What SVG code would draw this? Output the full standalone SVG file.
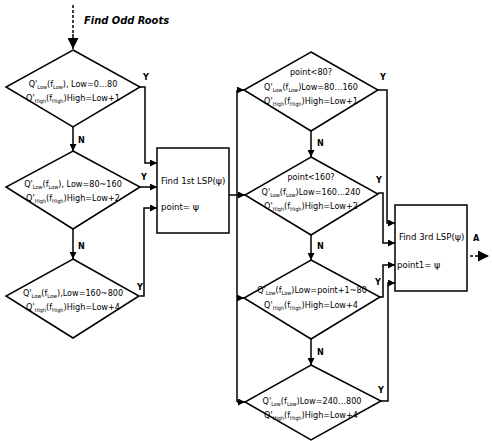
<svg xmlns="http://www.w3.org/2000/svg" width="492" height="441" viewBox="0 0 492 441">
<style>
.shape{fill:#fff;stroke:#000;stroke-width:1.5}
.ln{fill:none;stroke:#000;stroke-width:1.5}
.t{font-family:"DejaVu Sans Condensed","Liberation Sans",sans-serif;font-size:9px;fill:#000;text-anchor:middle}
.s{font-size:5.5px}
.lb{font-family:"DejaVu Sans Condensed","Liberation Sans",sans-serif;font-size:9px;font-weight:bold;fill:#000}
.bt{font-family:"DejaVu Sans Condensed","Liberation Sans",sans-serif;font-size:9.5px;fill:#000}
.ps{font-family:"DejaVu Sans","Liberation Sans",sans-serif;fill:#000}
.ti{font-family:"DejaVu Sans Condensed","Liberation Sans",sans-serif;font-size:11px;font-weight:bold;font-style:italic;fill:#000}
</style>
<defs>
<marker id="ah" viewBox="0 0 10 10" refX="10" refY="5" markerWidth="7" markerHeight="7" markerUnits="userSpaceOnUse" orient="auto"><path d="M0,0 L10,5 L0,10 z" fill="#000"/></marker>
<marker id="ahb" viewBox="0 0 10 10" refX="10" refY="5" markerWidth="11" markerHeight="11" markerUnits="userSpaceOnUse" orient="auto"><path d="M0,0 L10,5 L0,10 z" fill="#000"/></marker>
</defs>

<g id="connectors">
  <path class="ln" d="M73,5 V34" stroke-width="3" stroke-dasharray="3,2"/>
  <path class="ln" d="M73,34 V49" stroke-width="3" marker-end="url(#ahb)"/>
  <text class="ti" x="84" y="24">Find Odd Roots</text>
  <path class="ln" d="M73,127 V151" marker-end="url(#ah)"/>
  <text class="lb" x="78" y="143">N</text>
  <path class="ln" d="M73,229 V259" marker-end="url(#ah)"/>
  <text class="lb" x="78" y="249">N</text>
  <path class="ln" d="M140,87 H145 V163 H157" marker-end="url(#ah)"/>
  <text class="lb" x="143" y="80">Y</text>
  <path class="ln" d="M140,187 H157" marker-end="url(#ah)"/>
  <text class="lb" x="141" y="180">Y</text>
  <path class="ln" d="M140,296 H144 V208 H157" marker-end="url(#ah)"/>
  <text class="lb" x="137" y="290">Y</text>
  <path class="ln" d="M229,195 H245" marker-end="url(#ah)"/>
  <path class="ln" d="M237,402 V90"/>
  <path class="ln" d="M237,90 H244" marker-end="url(#ah)"/>
  <path class="ln" d="M237,298 H244" marker-end="url(#ah)"/>
  <path class="ln" d="M237,402 H245" marker-end="url(#ah)"/>
  <path class="ln" d="M311,131 V157" marker-end="url(#ah)"/>
  <text class="lb" x="317" y="146">N</text>
  <path class="ln" d="M311,235 V260" marker-end="url(#ah)"/>
  <text class="lb" x="317" y="249">N</text>
  <path class="ln" d="M311,339 V365" marker-end="url(#ah)"/>
  <text class="lb" x="317" y="355">N</text>
  <path class="ln" d="M378,90 H387 V223 H395" marker-end="url(#ah)"/>
  <text class="lb" x="380" y="80">Y</text>
  <path class="ln" d="M378,193 H383 V243 H395" marker-end="url(#ah)"/>
  <text class="lb" x="376" y="183">Y</text>
  <path class="ln" d="M380,297 H383 V265 H395" marker-end="url(#ah)"/>
  <text class="lb" x="375" y="285">Y</text>
  <path class="ln" d="M381,401 H388 V283 H395" marker-end="url(#ah)"/>
  <text class="lb" x="378" y="393">Y</text>
  <path class="ln" d="M470,256 H489" stroke-width="3" stroke-dasharray="3,2" marker-end="url(#ahb)"/>
  <text class="lb" x="473" y="241">A</text>
</g>

<g id="d1">
  <polygon class="shape" points="73,50 140,87 73,127 6,87"/>
  <text class="t" x="73" y="87">Q'<tspan class="s" dy="2">Low</tspan><tspan dy="-2">(f</tspan><tspan class="s" dy="2">Low</tspan><tspan dy="-2">), Low=0…80</tspan></text>
  <text class="t" x="73" y="101">Q'<tspan class="s" dy="2">High</tspan><tspan dy="-2">(f</tspan><tspan class="s" dy="2">High</tspan><tspan dy="-2">)High=Low+1</tspan></text>
</g>
<g id="d2">
  <polygon class="shape" points="73,151 140,187 73,229 6,187"/>
  <text class="t" x="73" y="187">Q'<tspan class="s" dy="2">Low</tspan><tspan dy="-2">(f</tspan><tspan class="s" dy="2">Low</tspan><tspan dy="-2">), Low=80~160</tspan></text>
  <text class="t" x="73" y="201">Q'<tspan class="s" dy="2">High</tspan><tspan dy="-2">(f</tspan><tspan class="s" dy="2">High</tspan><tspan dy="-2">)High=Low+2</tspan></text>
</g>
<g id="d3">
  <polygon class="shape" points="73,259 139,296 73,338 6,296"/>
  <text class="t" x="73" y="296">Q'<tspan class="s" dy="2">Low</tspan><tspan dy="-2">(f</tspan><tspan class="s" dy="2">Low</tspan><tspan dy="-2">),Low=160~800</tspan></text>
  <text class="t" x="73" y="310">Q'<tspan class="s" dy="2">High</tspan><tspan dy="-2">(f</tspan><tspan class="s" dy="2">High</tspan><tspan dy="-2">)High=Low+4</tspan></text>
</g>
<g id="box1">
  <rect class="shape" x="157" y="148" width="72" height="85"/>
  <text class="bt" x="161" y="184">Find 1st LSP(<tspan class="ps">ψ</tspan>)</text>
  <text class="bt" x="161" y="210">point= <tspan class="ps">ψ</tspan></text>
</g>
<g id="d4">
  <polygon class="shape" points="311,52 378,90 311,131 244,90"/>
  <text class="t" x="311" y="75">point&lt;80?</text>
  <text class="t" x="311" y="90">Q'<tspan class="s" dy="2">Low</tspan><tspan dy="-2">(f</tspan><tspan class="s" dy="2">Low</tspan><tspan dy="-2">)Low=80…160</tspan></text>
  <text class="t" x="311" y="104">Q'<tspan class="s" dy="2">High</tspan><tspan dy="-2">(f</tspan><tspan class="s" dy="2">High</tspan><tspan dy="-2">)High=Low+1</tspan></text>
</g>
<g id="d5">
  <polygon class="shape" points="311,157 378,194 311,235 245,195"/>
  <text class="t" x="311" y="180">point&lt;160?</text>
  <text class="t" x="311" y="195">Q'<tspan class="s" dy="2">Low</tspan><tspan dy="-2">(f</tspan><tspan class="s" dy="2">Low</tspan><tspan dy="-2">)Low=160…240</tspan></text>
  <text class="t" x="311" y="209">Q'<tspan class="s" dy="2">High</tspan><tspan dy="-2">(f</tspan><tspan class="s" dy="2">High</tspan><tspan dy="-2">)High=Low+2</tspan></text>
</g>
<g id="d6">
  <polygon class="shape" points="311,260 380,297 311,339 244,298"/>
  <text class="t" x="312" y="293">Q'<tspan class="s" dy="2">Low</tspan><tspan dy="-2">(f</tspan><tspan class="s" dy="2">Low</tspan><tspan dy="-2">)Low=point+1~80</tspan></text>
  <text class="t" x="311" y="308">Q'<tspan class="s" dy="2">High</tspan><tspan dy="-2">(f</tspan><tspan class="s" dy="2">High</tspan><tspan dy="-2">)High=Low+4</tspan></text>
</g>
<g id="d7">
  <polygon class="shape" points="311,365 381,401 311,440 245,402"/>
  <text class="t" x="312" y="404">Q'<tspan class="s" dy="2">Low</tspan><tspan dy="-2">(f</tspan><tspan class="s" dy="2">Low</tspan><tspan dy="-2">)Low=240…800</tspan></text>
  <text class="t" x="311" y="418">Q'<tspan class="s" dy="2">High</tspan><tspan dy="-2">(f</tspan><tspan class="s" dy="2">High</tspan><tspan dy="-2">)High=Low+4</tspan></text>
</g>
<g id="box2">
  <rect class="shape" x="395" y="205" width="72" height="86"/>
  <text class="bt" x="399" y="240">Find 3rd LSP(<tspan class="ps">ψ</tspan>)</text>
  <text class="bt" x="397" y="268">point1= <tspan class="ps">ψ</tspan></text>
</g>
</svg>
